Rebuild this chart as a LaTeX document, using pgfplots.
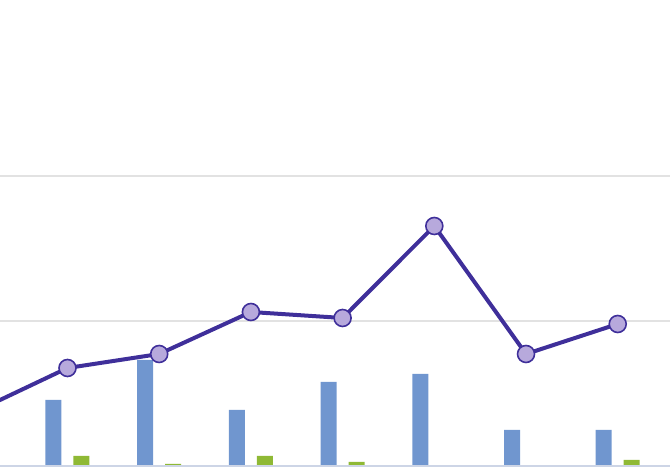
\documentclass[border=0pt]{standalone}
\usepackage{pgfplots}
\pgfplotsset{compat=1.18}
\definecolor{barblue}{HTML}{7096CF}
\definecolor{bargreen}{HTML}{8FB935}
\definecolor{linepurple}{HTML}{3F2F9A}
\definecolor{markfill}{HTML}{B7A9DC}
\definecolor{gridgray}{HTML}{E2E2E2}
\definecolor{baseblue}{HTML}{CDD5E6}
\begin{document}
\begin{tikzpicture}
\begin{axis}[
    at={(0,0)}, anchor=south west,
    scale only axis,
    width=670pt, height=470pt,
    xmin=0.264, xmax=7.57,
    ymin=-4, ymax=466,
    axis line style={draw=none},
    major tick length=0pt,
    ytick={145,290},
    yticklabels={},
    xtick=\empty,
    ymajorgrids,
    grid style={gridgray, line width=1.2pt},
    clip=true,
]
% blue bars
\addplot[ybar, bar width=16pt, bar shift=-14pt, fill=barblue, draw=none] coordinates {
    (1,66) (2,106) (3,56) (4,84) (5,92) (6,36) (7,36)
};
% green bars
\addplot[ybar, bar width=16pt, bar shift=14pt, fill=bargreen, draw=none] coordinates {
    (1,10) (2,2) (3,10) (4,4) (5,0) (6,0) (7,6)
};
% baseline
\draw[baseblue, line width=2.5pt] (axis cs:0.264,0) -- (axis cs:7.57,0);
% line series
\addplot[linepurple, line width=4pt, mark=*, mark size=8.5pt,
    mark options={fill=markfill, draw=linepurple, line width=1.6pt}] coordinates {
    (0,54.5) (1,98) (2,112) (3,154) (4,148) (5,240) (6,112) (7,142)
};
\end{axis}
\pgfresetboundingbox
\path[use as bounding box] (0,0) rectangle (670pt,470pt);
\end{tikzpicture}
\end{document}
